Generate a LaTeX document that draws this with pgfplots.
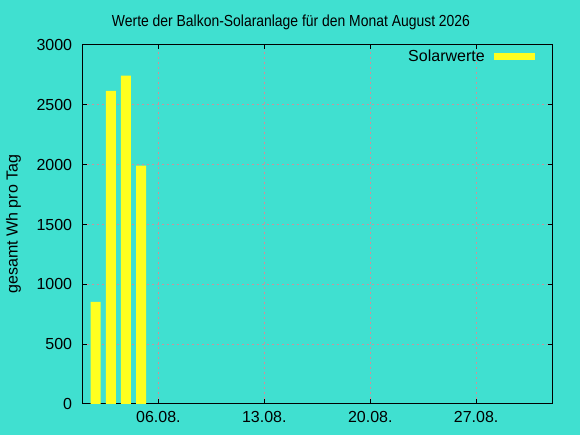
\documentclass[border=0pt]{standalone}
\usepackage{pgfplots}
\pgfplotsset{compat=1.18}
\usepackage{fontspec}
\setmainfont{Liberation Sans}
\definecolor{bgc}{HTML}{40E0D0}
\definecolor{baryel}{HTML}{FFFF20}
\definecolor{gridc}{RGB}{205,145,155}
\begin{document}
\begin{tikzpicture}[x=1bp,y=1bp]
\fill[bgc] (0,0) rectangle (580,435);
\path[use as bounding box] (0,0) rectangle (580,435);
\begin{axis}[
  at={(82.3bp,31bp)}, anchor=south west,
  scale only axis, width=470bp, height=359bp,
  xmin=0.97, xmax=32.03, ymin=0, ymax=3000,
  axis line style={line width=1bp, black},
  every tick/.style={black, line width=1bp},
  major tick length=4.5bp,
  xtick={6,13,20,27},
  xticklabels={06.08.,13.08.,20.08.,27.08.},
  ytick={0,500,1000,1500,2000,2500,3000},
  grid=major,
  major grid style={gridc, line width=1bp, dash pattern=on 2bp off 3bp},
  /pgf/number format/assume math mode=true,
  /pgf/number format/1000 sep={},
  tick label style={font=\fontsize{16bp}{19bp}\selectfont, inner sep=0pt},
  xticklabel style={yshift=-7bp},
  yticklabel style={xshift=-10bp},
  legend plot pos=right,
  legend style={draw=none, fill=none, at={(0.963,0.967)}, anchor=east,
    inner sep=0pt, column sep=9bp,
    font=\fontsize{16bp}{19bp}\selectfont,
    nodes={inner sep=0pt}},
  legend image code/.code={\fill[baryel] (0bp,-3.5bp) rectangle (41bp,3.5bp);},
]
\addplot[ybar, bar width=10bp, bar shift=0pt, fill=baryel, draw=none]
  coordinates {(1.85,853) (2.85,2617) (3.85,2745) (4.85,1992)};
\addlegendentry{Solarwerte}
\end{axis}
\node[anchor=base, inner sep=0pt, font=\fontsize{16bp}{19bp}\selectfont] at (291,408.7)
  {\scalebox{0.87}[1]{Werte der Balkon-Solaranlage für den Monat August 2026}};
\node[anchor=base, rotate=90, font=\fontsize{16bp}{19bp}\selectfont] at (17.5,211)
  {gesamt Wh pro Tag};
\end{tikzpicture}
\end{document}
